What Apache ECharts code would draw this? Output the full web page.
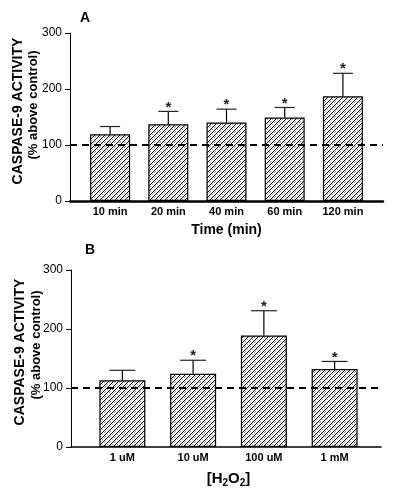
<!DOCTYPE html>
<html>
<head>
<meta charset="utf-8">
<script src="https://cdn.jsdelivr.net/npm/echarts@6/dist/echarts.min.js"></script>
<style>
  html, body { margin: 0; padding: 0; background: #fff; }
  #chart { width: 397px; height: 494px; }
</style>
</head>
<body>
<div id="chart"></div>
<script>
// panel A - time course
var catA = ['10 min', '20 min', '40 min', '60 min', '120 min'];
var valA = [119, 137, 140, 149, 187];
var errA = [14, 23, 24, 18, 41];
var sigA = [0, 1, 1, 1, 1];

// panel B - H2O2 dose
var catB = ['1 uM', '10 uM', '100 uM', '1 mM'];
var valB = [113, 124, 189, 132];
var errB = [17, 23, 42, 13];
var sigB = [0, 1, 1, 1];

var yMin = 0, yMax = 300, yStep = 100;
var controlLevel = 100;

var FONT = 'Liberation Sans, Arial, sans-serif';

// hatch pattern: black diagonals + grey dots
function makeHatch() {
    var s = 5;
    var c = document.createElement('canvas');
    c.width = s; c.height = s;
    var ctx = c.getContext('2d');
    ctx.fillStyle = '#fff';
    ctx.fillRect(0, 0, s, s);
    for (var x = 0; x < s; x++) {
        for (var y = 0; y < s; y++) {
            var k = (x + y) % s;
            if (k === s - 1) {
                ctx.fillStyle = '#000';
                ctx.fillRect(x, y, 1, 1);
            } else if (k === 1 && x % 2 === 0) {
                ctx.fillStyle = '#a0a0a0';
                ctx.fillRect(x, y, 1, 1);
            }
        }
    }
    return c;
}
var hatch = makeHatch();

function errData(vals, errs, sig) {
    return vals.map(function (v, i) { return [i, v, errs[i], sig[i]]; });
}

function errRender(capW) {
    return function (params, api) {
        var i = api.value(0), v = api.value(1), e = api.value(2), s = api.value(3);
        var p0 = api.coord([i, v]);
        var p1 = api.coord([i, v + e]);
        var kids = [
            { type: 'line', shape: { x1: p0[0], y1: p0[1], x2: p1[0], y2: p1[1] },
              style: { stroke: '#000', lineWidth: 1.2 } },
            { type: 'line', shape: { x1: p1[0] - capW / 2, y1: p1[1], x2: p1[0] + capW / 2, y2: p1[1] },
              style: { stroke: '#222', lineWidth: 1.2 } }
        ];
        if (s) {
            kids.push({ type: 'text', x: p1[0], y: p1[1] - 4,
                style: { text: '*', fill: '#222', font: 'bold 15px ' + FONT,
                         textAlign: 'center', textVerticalAlign: 'middle' } });
        }
        return { type: 'group', children: kids };
    };
}

function frameY(idx, show) {
    return {
        type: 'value', gridIndex: idx, min: yMin, max: yMax, interval: yStep,
        splitLine: { show: false },
        axisLine: { show: show, onZero: false, lineStyle: { color: '#000', width: 1 } },
        axisTick: { show: show, length: 5, lineStyle: { color: '#000', width: 1 } },
        axisLabel: { show: show, margin: 8, color: '#000', fontSize: 12, fontFamily: FONT }
    };
}

var chart = echarts.init(document.getElementById('chart'));

var option = {
    animation: false,
    backgroundColor: '#fff',
    grid: [
        { left: 70, top: 33, width: 313, height: 168 },
        { left: 81, top: 33, width: 291, height: 168 },
        { left: 71, top: 270, width: 310, height: 177 },
        { left: 87, top: 270, width: 283, height: 177 }
    ],
    xAxis: [
        { type: 'value', gridIndex: 0, min: 0, max: 1, splitLine: { show: false },
          axisLabel: { show: false }, axisTick: { show: false },
          axisLine: { onZero: false, lineStyle: { color: '#000', width: 2.5 } } },
        { type: 'category', gridIndex: 1, data: catA,
          axisLine: { show: false }, axisTick: { show: false },
          axisLabel: { margin: 5, color: '#000', fontSize: 11, fontWeight: 'bold', fontFamily: FONT },
          name: 'Time (min)', nameLocation: 'middle', nameGap: 22,
          nameTextStyle: { color: '#000', fontSize: 14, fontWeight: 'bold', fontFamily: FONT } },
        { type: 'value', gridIndex: 2, min: 0, max: 1, splitLine: { show: false },
          axisLabel: { show: false }, axisTick: { show: false },
          axisLine: { onZero: false, lineStyle: { color: '#000', width: 1.5 } } },
        { type: 'category', gridIndex: 3, data: catB,
          axisLine: { show: false }, axisTick: { show: false },
          axisLabel: { margin: 5, color: '#000', fontSize: 11, fontWeight: 'bold', fontFamily: FONT },
          name: '[H{s|2}O{s|2}]', nameLocation: 'middle', nameGap: 23,
          nameTextStyle: { color: '#000', fontSize: 15, fontWeight: 'bold', fontFamily: FONT, lineHeight: 18,
              rich: { s: { fontSize: 10, fontWeight: 'bold', fontFamily: FONT, lineHeight: 10, verticalAlign: 'bottom' } } } }
    ],
    yAxis: [frameY(0, true), frameY(1, false), frameY(2, true), frameY(3, false)],
    graphic: [
        { type: 'text', left: 80, top: 11, style: { text: 'A', font: 'bold 14px ' + FONT, fill: '#000' } },
        { type: 'text', left: 85, top: 243, style: { text: 'B', font: 'bold 14px ' + FONT, fill: '#000' } },
        { type: 'text', x: 18, y: 111, rotation: Math.PI / 2,
          style: { text: 'CASPASE-9 ACTIVITY', font: 'bold 14px ' + FONT, fill: '#000', textAlign: 'center', textVerticalAlign: 'middle' } },
        { type: 'text', x: 33, y: 105, rotation: Math.PI / 2,
          style: { text: '(% above control)', font: 'bold 13px ' + FONT, fill: '#000', textAlign: 'center', textVerticalAlign: 'middle' } },
        { type: 'text', x: 20, y: 352, rotation: Math.PI / 2,
          style: { text: 'CASPASE-9 ACTIVITY', font: 'bold 14px ' + FONT, fill: '#000', textAlign: 'center', textVerticalAlign: 'middle' } },
        { type: 'text', x: 36, y: 345, rotation: Math.PI / 2,
          style: { text: '(% above control)', font: 'bold 13px ' + FONT, fill: '#000', textAlign: 'center', textVerticalAlign: 'middle' } }
    ],
    series: [
        { type: 'bar', xAxisIndex: 1, yAxisIndex: 1, data: valA, barWidth: 40, z: 2,
          itemStyle: { color: { image: hatch, repeat: 'repeat' }, borderColor: '#000', borderWidth: 1.2 } },
        { type: 'custom', xAxisIndex: 1, yAxisIndex: 1, data: errData(valA, errA, sigA),
          renderItem: errRender(20), z: 3 },
        { type: 'line', xAxisIndex: 0, yAxisIndex: 0, data: [], z: 5,
          markLine: { silent: true, symbol: 'none', label: { show: false },
              lineStyle: { color: '#000', width: 2, type: [7, 5] }, data: [{ yAxis: controlLevel }] } },
        { type: 'bar', xAxisIndex: 3, yAxisIndex: 3, data: valB, barWidth: 46, z: 2,
          itemStyle: { color: { image: hatch, repeat: 'repeat' }, borderColor: '#000', borderWidth: 1.2 } },
        { type: 'custom', xAxisIndex: 3, yAxisIndex: 3, data: errData(valB, errB, sigB),
          renderItem: errRender(26), z: 3 },
        { type: 'line', xAxisIndex: 2, yAxisIndex: 2, data: [], z: 5,
          markLine: { silent: true, symbol: 'none', label: { show: false },
              lineStyle: { color: '#000', width: 2, type: [7, 5] }, data: [{ yAxis: controlLevel }] } }
    ]
};

chart.setOption(option);
</script>
</body>
</html>
